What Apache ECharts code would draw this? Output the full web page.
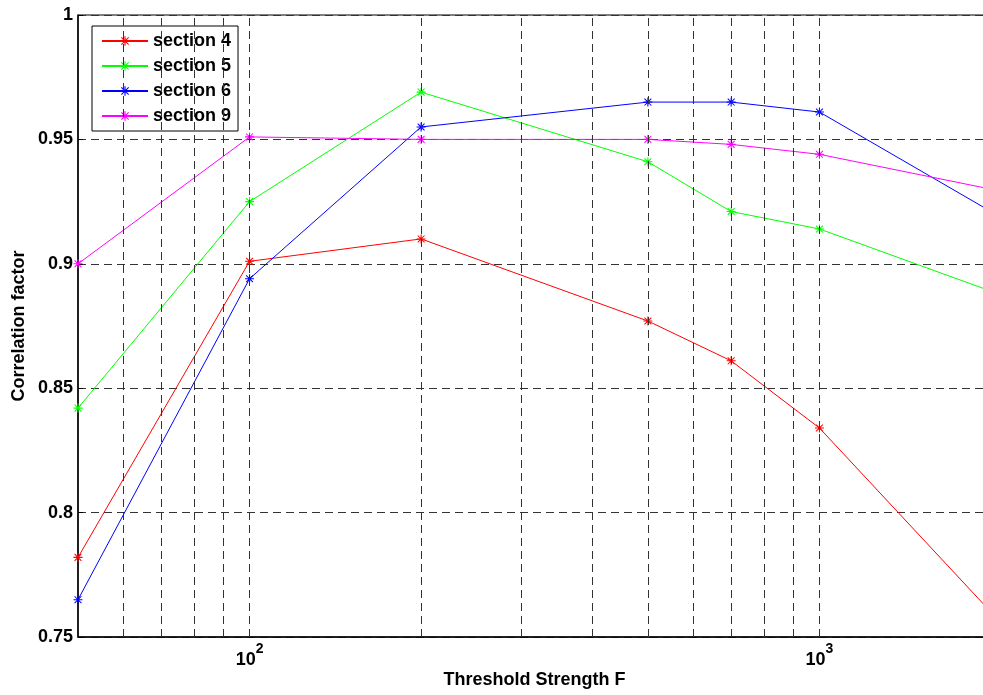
<!DOCTYPE html>
<html>
<head>
<meta charset="utf-8">
<script src="https://cdn.jsdelivr.net/npm/echarts@6/dist/echarts.min.js"></script>
<style>
  html, body { margin: 0; padding: 0; background: #fff; }
  #chart { width: 983px; height: 695px; }
</style>
</head>
<body>
<div id="chart"></div>
<script>
// ---- data ----
const thresholdF = [50, 100, 200, 500, 700, 1000, 2000];
const section4 = [0.782, 0.901, 0.910, 0.877, 0.861, 0.834, 0.760];
const section5 = [0.842, 0.925, 0.969, 0.941, 0.921, 0.914, 0.889];
const section6 = [0.765, 0.894, 0.955, 0.965, 0.965, 0.961, 0.921];
const section9 = [0.900, 0.951, 0.950, 0.950, 0.948, 0.944, 0.930];
const seriesNames = ['section 4', 'section 5', 'section 6', 'section 9'];
const seriesColors = ['#ff0000', '#00ff00', '#0000ff', '#ff00ff'];
const verticalGridF = [60, 70, 80, 90, 100, 200, 300, 400, 500, 600, 700, 800, 900, 1000];
const yMin = 0.75, yMax = 1, yStep = 0.05;
const xMin = 50, xMax = 2000;

const FONT = "'Liberation Sans', Arial, Helvetica, sans-serif";
const STAR = 'path://M4.4,0H5.6V10H4.4Z M0,4.4H10V5.6H0Z M1.6,0.8L9.2,8.4L8.4,9.2L0.8,1.6Z M8.4,0.8L9.2,1.6L1.6,9.2L0.8,8.4Z';

const allValues = [section4, section5, section6, section9];

function pairs(vals) {
  return thresholdF.map((f, i) => [f, vals[i]]);
}

const chart = echarts.init(document.getElementById('chart'), null, { renderer: 'canvas' });

const series = [
  {
    name: '__grid',
    type: 'line',
    data: [],
    z: 1,
    silent: true,
    markLine: {
      silent: true,
      symbol: ['none', 'none'],
      label: { show: false },
      lineStyle: { color: '#333', width: 1, type: [8, 5] },
      emphasis: { disabled: true },
      animation: false,
      data: verticalGridF.map(f => ({ xAxis: f }))
    }
  }
];
seriesNames.forEach((n, i) => {
  series.push({
    name: n,
    type: 'line',
    z: 3,
    data: pairs(allValues[i]),
    symbol: STAR,
    symbolSize: 9,
    showAllSymbol: true,
    lineStyle: { color: seriesColors[i], width: 1 },
    itemStyle: { color: seriesColors[i] },
    emphasis: { disabled: true }
  });
});

chart.setOption({
  animation: false,
  backgroundColor: '#fff',
  grid: {
    left: 78, top: 15, width: 913, height: 622,
    containLabel: false,
    outerBoundsMode: 'none',
    show: true, borderColor: '#000', borderWidth: 1, backgroundColor: 'transparent'
  },
  legend: {
    data: seriesNames,
    orient: 'vertical',
    left: 92, top: 26,
    itemWidth: 46, itemHeight: 12, itemGap: 7,
    padding: [6, 7, 6, 9],
    backgroundColor: '#fff',
    borderColor: '#000', borderWidth: 1,
    borderRadius: 0,
    selectedMode: false,
    textStyle: { fontFamily: FONT, fontSize: 18, fontWeight: 'bold', color: '#000' }
  },
  xAxis: {
    type: 'log', logBase: 10, min: xMin, max: xMax,
    name: 'Threshold Strength F',
    nameLocation: 'middle', nameGap: 34,
    nameMoveOverlap: false,
    nameTextStyle: { fontFamily: FONT, fontSize: 18, fontWeight: 'bold', color: '#000' },
    axisLine: { show: true, lineStyle: { color: '#000', width: 1.5 } },
    axisTick: { show: false },
    splitLine: { show: false },
    axisLabel: {
      margin: 5,
      color: '#000',
      formatter: function (v) {
        const e = Math.log10(v);
        if (Math.abs(e - Math.round(e)) < 1e-6) {
          return '{b|10}{s|' + Math.round(e) + '}';
        }
        return '';
      },
      rich: {
        b: { fontFamily: FONT, fontSize: 18, fontWeight: 'bold', color: '#000', lineHeight: 27, verticalAlign: 'bottom' },
        s: { fontFamily: FONT, fontSize: 14, fontWeight: 'bold', color: '#000', lineHeight: 14, verticalAlign: 'top' }
      }
    }
  },
  yAxis: {
    type: 'value', min: yMin, max: yMax, interval: yStep,
    name: 'Correlation factor',
    nameLocation: 'middle', nameGap: 50,
    nameMoveOverlap: false,
    nameTextStyle: { fontFamily: FONT, fontSize: 18, fontWeight: 'bold', color: '#000' },
    axisLine: { show: true, lineStyle: { color: '#000', width: 1.5 } },
    axisTick: { show: true, inside: true, length: 5, lineStyle: { color: '#000' } },
    splitLine: { show: true, lineStyle: { color: '#333', width: 1, type: [8, 5] } },
    axisLabel: {
      margin: 5,
      fontFamily: FONT, fontSize: 18, fontWeight: 'bold', color: '#000',
      formatter: v => String(Number(v.toFixed(2)))
    }
  },
  series: series
});
</script>
</body>
</html>
